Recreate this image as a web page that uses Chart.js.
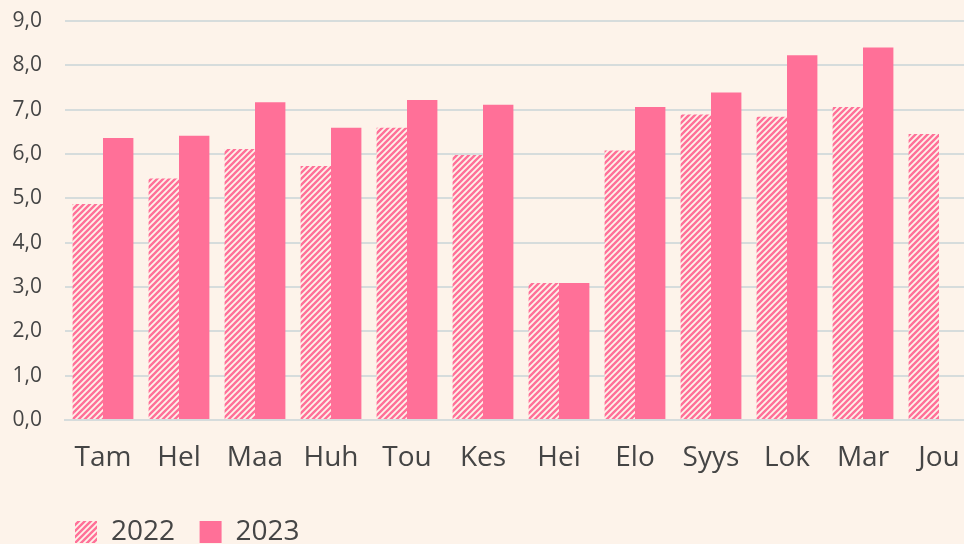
<!DOCTYPE html>
<html lang="fi">
<head>
  <meta charset="UTF-8">
  <title>Kuukausittain 2022 / 2023</title>
  <script src="https://cdn.jsdelivr.net/npm/chart.js@4"></script>
  <style>
    html, body {
      margin: 0;
      padding: 0;
      background: #fdf3ea;
      overflow: hidden;
    }
    #wrap {
      width: 977px;
      height: 556px;
    }
  </style>
</head>
<body>
  <div id="wrap"><canvas id="kaavio" width="977" height="556"></canvas></div>

  <script>
    const kuukaudet = ['Tam', 'Hel', 'Maa', 'Huh', 'Tou', 'Kes', 'Hei', 'Elo', 'Syys', 'Lok', 'Mar', 'Jou'];
    const arvot2022 = [4.87, 5.45, 6.11, 5.73, 6.59, 5.98, 3.09, 6.08, 6.89, 6.84, 7.06, 6.45];
    const arvot2023 = [6.36, 6.41, 7.17, 6.59, 7.22, 7.11, 3.09, 7.06, 7.39, 8.23, 8.40, null];
    const yTikit = [0, 1, 2, 3, 4, 5, 6, 7, 8, 9];

    const pinkki = '#ff7098';
    const tausta = '#fdf3ea';
    const teksti = '#454545';

    // vinoviivakuvio 2022-pylväille
    function viivakuvio() {
      const c = document.createElement('canvas');
      c.width = 6;
      c.height = 6;
      const g = c.getContext('2d');
      g.fillStyle = tausta;
      g.fillRect(0, 0, 6, 6);
      g.strokeStyle = pinkki;
      g.lineWidth = 2.4;
      g.beginPath();
      g.moveTo(-1, 7); g.lineTo(7, -1);
      g.moveTo(-4, 4); g.lineTo(4, -4);
      g.moveTo(2, 10); g.lineTo(10, 2);
      g.stroke();
      return g.createPattern(c, 'repeat');
    }

    Chart.defaults.font.family = '"Open Sans", Lato, sans-serif';
    Chart.defaults.color = teksti;

    const ctx = document.getElementById('kaavio').getContext('2d');
    new Chart(ctx, {
      type: 'bar',
      data: {
        labels: kuukaudet,
        datasets: [
          {
            label: '2022',
            data: arvot2022,
            backgroundColor: viivakuvio(),
            borderWidth: 0,
            categoryPercentage: 0.8,
            barPercentage: 1.0
          },
          {
            label: '2023',
            data: arvot2023,
            backgroundColor: pinkki,
            borderWidth: 0,
            categoryPercentage: 0.8,
            barPercentage: 1.0
          }
        ]
      },
      options: {
        responsive: false,
        animation: false,
        layout: { padding: { left: 12, top: 21, right: 0, bottom: 0 } },
        plugins: {
          tooltip: { enabled: false },
          legend: {
            position: 'bottom',
            align: 'start',
            fullSize: false,
            labels: {
              boxWidth: 22,
              boxHeight: 22,
              padding: 10,
              font: { size: 28 },
              color: teksti,
              // väliä selitteiden välille
              generateLabels: chart => Chart.defaults.plugins.legend.labels.generateLabels(chart)
                .map(l => Object.assign(l, { text: l.text + '\u00a0\u00a0' }))
            }
          }
        },
        scales: {
          x: {
            grid: { display: false, drawTicks: false },
            border: { color: '#d6dcdc', width: 2 },
            ticks: { font: { size: 28 }, padding: 21, color: teksti, maxRotation: 0, autoSkip: false },
            afterFit: axis => {
              axis.paddingLeft = 0;
              axis.paddingRight = 0;
              axis.height = 88;
            }
          },
          y: {
            min: 0,
            max: 9,
            afterBuildTicks: axis => { axis.ticks = yTikit.map(v => ({ value: v })); },
            grid: { color: '#d6dcdc', lineWidth: 2, drawTicks: false },
            border: { display: false },
            ticks: {
              font: { size: 21 },
              padding: 23,
              color: teksti,
              callback: v => v.toFixed(1).replace('.', ',')
            },
            afterFit: axis => {
              axis.paddingTop = 0;
              axis.paddingBottom = 0;
              axis.width = 53;
            }
          }
        }
      }
    });
  </script>
</body>
</html>
